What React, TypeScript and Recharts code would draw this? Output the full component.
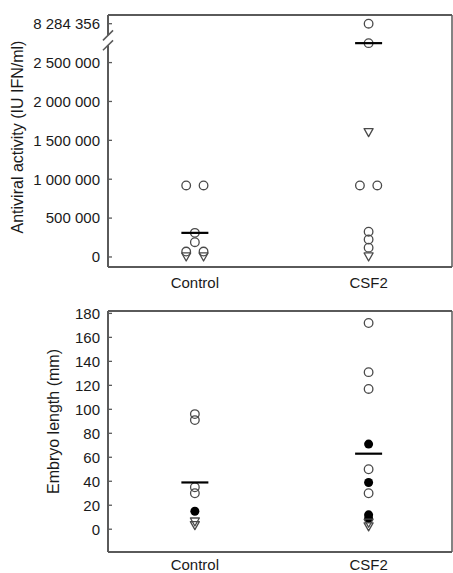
import { ScatterChart, Scatter, XAxis, YAxis, ReferenceLine, Label } from "recharts";

const groups = ["Control", "CSF2"];
const groupX = [1, 3];

// Antiviral activity (IU IFN/ml)
const antiviralControlOpen = [920000, 920000, 310000, 190000, 70000, 70000];
const antiviralControlTriangle = [0, 0];
const antiviralCsf2Open = [8284356, 2750000, 920000, 920000, 325000, 225000, 120000];
const antiviralCsf2Triangle = [1600000, 0];
const antiviralMeans = [310000, 2750000];
const antiviralTicks = [0, 500000, 1000000, 1500000, 2000000, 2500000, 8284356];

// Embryo length (mm)
const lengthControlOpen = [96, 91, 35, 30];
const lengthControlFilled = [15];
const lengthControlTriangle = [6, 3];
const lengthCsf2Open = [172, 131, 117, 50, 30];
const lengthCsf2Filled = [71, 39, 12, 9];
const lengthCsf2Triangle = [5, 2];
const lengthMeans = [39, 63];
const lengthTicks = [0, 20, 40, 60, 80, 100, 120, 140, 160, 180];

// broken axis: the top value sits in the slot just above 2 500 000
const BREAK_VALUE = 8284356;
const BREAK_SLOT = 3000000;
const toAxis = (v: number) => (v >= BREAK_VALUE ? BREAK_SLOT : v);

const X_DOMAIN: [number, number] = [0, 3.96];
const TOP_DOMAIN: [number, number] = [-129000, 3112000];
const BOTTOM_DOMAIN: [number, number] = [-19, 182];

const FONT = "'Liberation Sans', Arial, sans-serif";
const FRAME = "#5a5a5a";
const MARK = "#4a4a4a";

// equal values in one group are spread side by side
function place(values: number[], g: number, map = (v: number) => v) {
  return values.map((v, i) => {
    const same = values.filter((w) => w === v).length;
    const rank = values.slice(0, i).filter((w) => w === v).length;
    return { x: groupX[g] + (rank - (same - 1) / 2) * 0.2, y: map(v) };
  });
}

const means = (values: number[], map = (v: number) => v) =>
  values.map((v, g) => ({ x: groupX[g], y: map(v) }));

const fmt = (n: number) => String(n).replace(/\B(?=(\d{3})+(?!\d))/g, " ");

const OpenCircle = (p: any) => (
  <circle cx={p.cx} cy={p.cy} r={4.3} fill="none" stroke={MARK} strokeWidth={1.3} />
);
const FilledCircle = (p: any) => <circle cx={p.cx} cy={p.cy} r={4.5} fill="#000" />;
const DownTriangle = (p: any) => (
  <path
    d={`M${p.cx - 4.5},${p.cy - 4}L${p.cx + 4.5},${p.cy - 4}L${p.cx},${p.cy + 4}Z`}
    fill="none"
    stroke={MARK}
    strokeWidth={1.3}
    strokeLinejoin="round"
  />
);
const MeanBar = (p: any) => (
  <line x1={p.cx - 13.5} x2={p.cx + 13.5} y1={p.cy} y2={p.cy} stroke="#000" strokeWidth={2.2} />
);

function axisTitle(text: string, dx: number, dy: number) {
  return (
    <Label
      content={(props: any) => {
        const vb = props.viewBox;
        const cx = vb.x + dx;
        const cy = vb.y + vb.height / 2 + dy;
        return (
          <text
            x={cx}
            y={cy}
            transform={`rotate(-90 ${cx} ${cy})`}
            textAnchor="middle"
            dominantBaseline="central"
            fontSize={16}
            fontFamily={FONT}
            fill="#1a1a1a"
          >
            {text}
          </text>
        );
      }}
    />
  );
}

const tickStyle = { fontSize: 15, fill: "#1a1a1a", fontFamily: FONT };

export default function App() {
  const breakLow = 2722000;
  const breakHigh = 2850000;
  const slash = 64000;
  const sx = 0.058;

  return (
    <div style={{ position: "absolute", left: 0, top: 0, width: 453, height: 573, background: "#fff" }}>
      <ScatterChart width={453} height={290} margin={{ top: 15, right: 1, bottom: 0, left: 0 }}>
        <XAxis
          type="number"
          dataKey="x"
          domain={X_DOMAIN}
          ticks={groupX}
          tickFormatter={(v: number) => groups[groupX.indexOf(v)] ?? ""}
          tickLine={false}
          tickSize={0}
          tickMargin={10}
          height={23}
          axisLine={{ stroke: FRAME, strokeWidth: 2 }}
          tick={tickStyle}
          allowDataOverflow
        />
        <YAxis
          type="number"
          dataKey="y"
          domain={TOP_DOMAIN}
          ticks={antiviralTicks.map(toAxis)}
          tickFormatter={(v: number) => fmt(v === BREAK_SLOT ? BREAK_VALUE : v)}
          width={108}
          axisLine={false}
          tickLine={{ stroke: FRAME, strokeWidth: 1.3 }}
          tickSize={-4}
          tickMargin={12}
          tick={tickStyle}
          interval={0}
          allowDataOverflow
          label={axisTitle("Antiviral activity (IU IFN/ml)", 17, -4)}
        />
        <ReferenceLine y={TOP_DOMAIN[1]} stroke={FRAME} strokeWidth={2} ifOverflow="visible" />
        <ReferenceLine x={X_DOMAIN[1]} stroke={FRAME} strokeWidth={1.5} ifOverflow="visible" />
        <ReferenceLine
          segment={[
            { x: 0, y: TOP_DOMAIN[0] },
            { x: 0, y: breakLow },
          ]}
          stroke={FRAME}
          strokeWidth={2}
          ifOverflow="visible"
        />
        <ReferenceLine
          segment={[
            { x: 0, y: breakHigh },
            { x: 0, y: TOP_DOMAIN[1] },
          ]}
          stroke={FRAME}
          strokeWidth={2}
          ifOverflow="visible"
        />
        {[breakLow, breakHigh].map((b) => (
          <ReferenceLine
            key={b}
            segment={[
              { x: -sx, y: b - slash },
              { x: sx, y: b + slash },
            ]}
            stroke={FRAME}
            strokeWidth={1.5}
            ifOverflow="visible"
          />
        ))}
        <Scatter data={place(antiviralControlOpen, 0)} shape={OpenCircle} isAnimationActive={false} />
        <Scatter data={place(antiviralCsf2Open, 1, toAxis)} shape={OpenCircle} isAnimationActive={false} />
        <Scatter data={place(antiviralControlTriangle, 0)} shape={DownTriangle} isAnimationActive={false} />
        <Scatter data={place(antiviralCsf2Triangle, 1)} shape={DownTriangle} isAnimationActive={false} />
        <Scatter data={means(antiviralMeans)} shape={MeanBar} isAnimationActive={false} />
      </ScatterChart>

      <ScatterChart width={453} height={283} margin={{ top: 21, right: 1, bottom: 0, left: 0 }}>
        <XAxis
          type="number"
          dataKey="x"
          domain={X_DOMAIN}
          ticks={groupX}
          tickFormatter={(v: number) => groups[groupX.indexOf(v)] ?? ""}
          tickLine={false}
          tickSize={0}
          tickMargin={7}
          height={21}
          axisLine={{ stroke: FRAME, strokeWidth: 2 }}
          tick={tickStyle}
          allowDataOverflow
        />
        <YAxis
          type="number"
          dataKey="y"
          domain={BOTTOM_DOMAIN}
          ticks={lengthTicks}
          width={108}
          axisLine={{ stroke: FRAME, strokeWidth: 2 }}
          tickLine={{ stroke: FRAME, strokeWidth: 1.3 }}
          tickSize={-4}
          tickMargin={12}
          tick={tickStyle}
          interval={0}
          allowDataOverflow
          label={axisTitle("Embryo length (mm)", 53, -10)}
        />
        <ReferenceLine y={BOTTOM_DOMAIN[1]} stroke={FRAME} strokeWidth={2} ifOverflow="visible" />
        <ReferenceLine x={X_DOMAIN[1]} stroke={FRAME} strokeWidth={1.5} ifOverflow="visible" />
        <Scatter data={place(lengthControlOpen, 0)} shape={OpenCircle} isAnimationActive={false} />
        <Scatter data={place(lengthCsf2Open, 1)} shape={OpenCircle} isAnimationActive={false} />
        <Scatter data={place(lengthControlFilled, 0)} shape={FilledCircle} isAnimationActive={false} />
        <Scatter data={place(lengthCsf2Filled, 1)} shape={FilledCircle} isAnimationActive={false} />
        <Scatter data={place(lengthControlTriangle, 0)} shape={DownTriangle} isAnimationActive={false} />
        <Scatter data={place(lengthCsf2Triangle, 1)} shape={DownTriangle} isAnimationActive={false} />
        <Scatter data={means(lengthMeans)} shape={MeanBar} isAnimationActive={false} />
      </ScatterChart>
    </div>
  );
}
